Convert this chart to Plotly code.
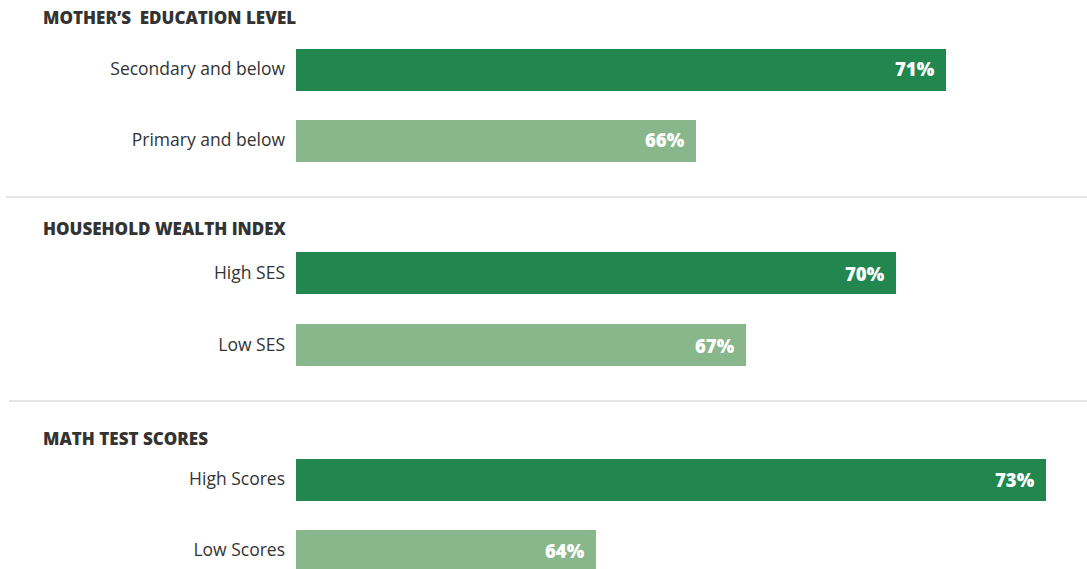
import plotly.graph_objects as go

# Share of children (%) by background characteristic
groups = ["MOTHER’S  EDUCATION LEVEL", "HOUSEHOLD WEALTH INDEX", "MATH TEST SCORES"]
categories = [
    ["Secondary and below", "Primary and below"],
    ["High SES", "Low SES"],
    ["High Scores", "Low Scores"],
]
values = [
    [71, 66],
    [70, 67],
    [73, 64],
]

DARK = "#22874f"
LIGHT = "#87b78a"
TEXT = "#333333"
FONT = "Open Sans"

W, H = 1087, 569
LEFT = 296
X0 = 58
PX_PER_UNIT = 50
x_range = [X0, X0 + (W - LEFT) / PX_PER_UNIT]

# vertical layout of each panel, in pixels from the top
panels = [(33.5, 175.5), (237, 381), (443.5, 569)]
row_px = [71, 72, 71]
header_y = [17, 228, 438]
separators = [(197, 6), (401, 9)]

fig = go.Figure()
layout = {}
for i, (cats, vals) in enumerate(zip(categories, values)):
    n = i + 1
    xa = "x" if n == 1 else f"x{n}"
    ya = "y" if n == 1 else f"y{n}"
    fig.add_trace(go.Bar(
        y=cats, x=vals, orientation="h",
        marker=dict(color=[DARK, LIGHT], line=dict(width=0)),
        width=42 / row_px[i],
        xaxis=xa, yaxis=ya, hoverinfo="skip", showlegend=False,
    ))
    for c, v in zip(cats, vals):
        fig.add_annotation(
            x=v, y=c, xref=xa, yref=ya, text=f"{v}%",
            xanchor="right", xshift=-9, showarrow=False,
            font=dict(family=FONT, size=18.5, color="white", weight=800),
        )
    top, bottom = panels[i]
    span = (bottom - top) / row_px[i]
    layout[f"xaxis{'' if n == 1 else n}"] = dict(
        range=x_range, domain=[0, 1], anchor=ya, visible=False, fixedrange=True,
    )
    layout[f"yaxis{'' if n == 1 else n}"] = dict(
        domain=[1 - bottom / H, 1 - top / H], anchor=xa,
        type="category", categoryorder="array", categoryarray=cats,
        range=[-0.5 + span, -0.5], showgrid=False, zeroline=False, showline=False,
        ticks="", ticklabelstandoff=10,
        tickfont=dict(family=FONT, size=17.5, color=TEXT, weight=500),
    )
    fig.add_annotation(
        x=41, y=1 - header_y[i] / H, xref="paper", yref="paper",
        text=groups[i], xanchor="left", yanchor="middle",
        showarrow=False, font=dict(family=FONT, size=17, color=TEXT, weight=800),
    )

for y, x_start in separators:
    fig.add_shape(type="line", xref="paper", yref="paper",
                  x0=(x_start - LEFT) / (W - LEFT), x1=1, y0=1 - y / H, y1=1 - y / H,
                  line=dict(color="#e4e4e4", width=2))

fig.update_layout(
    **layout,
    width=W, height=H,
    margin=dict(l=LEFT, r=0, t=0, b=0),
    paper_bgcolor="white", plot_bgcolor="white",
    bargap=0,
)
# header annotations are given in pixels; convert to paper space
for a in fig.layout.annotations:
    if a.xref == "paper":
        a.x = (a.x - LEFT) / (W - LEFT)

fig.write_html("out.html", include_plotlyjs=True)
